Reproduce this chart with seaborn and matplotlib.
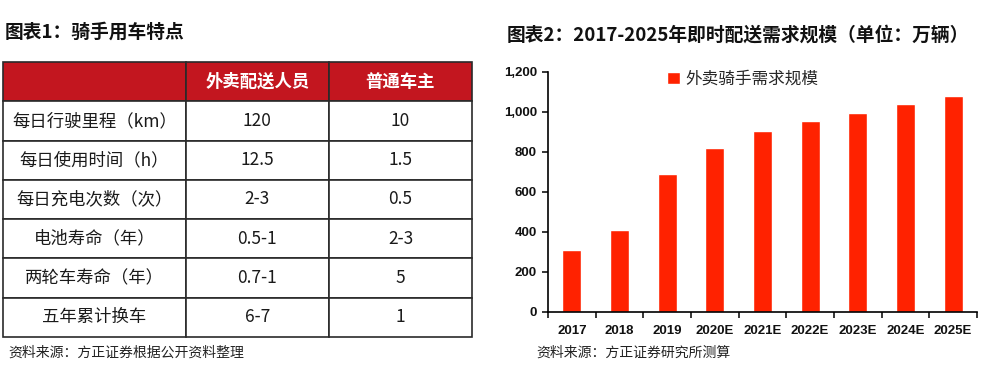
import matplotlib
matplotlib.use('Agg')
import matplotlib.pyplot as plt
import matplotlib.ticker as mticker
import seaborn as sns

# 图表1：骑手用车特点
row_labels = ['每日行驶里程（km）', '每日使用时间（h）', '每日充电次数（次）',
              '电池寿命（年）', '两轮车寿命（年）', '五年累计换车']
col_labels = ['', '外卖配送人员', '普通车主']
rider_vals = ['120', '12.5', '2-3', '0.5-1', '0.7-1', '6-7']
owner_vals = ['10', '1.5', '0.5', '2-3', '5', '1']

# 图表2：即时配送需求规模（万辆）
years = ['2017', '2018', '2019', '2020E', '2021E', '2022E', '2023E', '2024E', '2025E']
demand = [310, 410, 690, 820, 905, 955, 995, 1040, 1080]
series_name = '外卖骑手需求规模'

sns.set_theme(style='ticks')
plt.rcParams['font.family'] = ['Noto Sans CJK SC', 'DejaVu Sans']

fig = plt.figure(figsize=(10, 3.72), dpi=100)

# ---- left: table ----
ax_t = fig.add_axes([0.003, 1 - 337 / 372, 0.469, 275 / 372])
ax_t.axis('off')
cells = [[r, a, b] for r, a, b in zip(row_labels, rider_vals, owner_vals)]
tbl = ax_t.table(cellText=cells, colLabels=col_labels, colWidths=[0.39, 0.305, 0.305],
                 bbox=[0, 0, 1, 1], cellLoc='center')
tbl.auto_set_font_size(False)
for (r, c), cell in tbl.get_celld().items():
    cell.set_edgecolor('#2a2a2a')
    cell.set_linewidth(1.2)
    txt = cell.get_text()
    txt.set_fontsize(12.5)
    txt.set_color('#1a1a1a')
    if r == 0:
        cell.set_facecolor('#C3161F')
        txt.set_color('white')
        txt.set_fontweight('bold')

fig.text(0.005, 1 - 32 / 372, '图表1：骑手用车特点', fontsize=13.5, fontweight='bold',
         va='center', ha='left', color='#111111')
fig.text(0.008, 1 - 353 / 372, '资料来源：方正证券根据公开资料整理', fontsize=10,
         va='center', ha='left', color='#222222')

# ---- right: bar chart ----
ax = fig.add_axes([0.548, 1 - 312 / 372, 0.429, 240 / 372])
sns.barplot(x=years, y=demand, color='#FF2200', saturation=1, width=0.4,
            label=series_name, ax=ax)
ax.set_ylim(0, 1200)
ax.set_xlim(-0.5, len(years) - 0.5)
ax.set_yticks(range(0, 1201, 200))
ax.yaxis.set_major_formatter(mticker.FuncFormatter(lambda v, p: f'{int(v):,}'))
ax.set_xlabel('')
ax.set_ylabel('')
sns.despine(ax=ax)
for s in ['left', 'bottom']:
    ax.spines[s].set_color('black')
    ax.spines[s].set_linewidth(1.2)

ax.set_xticks([i + 0.5 for i in range(-1, len(years))], minor=True)
ax.tick_params(axis='x', which='major', length=0, pad=9)
ax.tick_params(axis='x', which='minor', length=4, width=1.1, color='black', direction='out')
ax.tick_params(axis='y', length=4, width=1.1, color='black', direction='out', pad=4)
for lab in ax.get_xticklabels() + ax.get_yticklabels():
    lab.set_family(['Liberation Sans', 'DejaVu Sans'])
    lab.set_fontsize(9.5)
    lab.set_fontweight('bold')
    lab.set_color('#111111')

ax.legend(loc='center left', bbox_to_anchor=(0.667, 1 - 79 / 372),
          bbox_transform=fig.transFigure, frameon=False, fontsize=12,
          handlelength=0.75, handleheight=0.75, handletextpad=0.35,
          borderpad=0, borderaxespad=0)

fig.text(0.507, 1 - 35 / 372, '图表2：2017-2025年即时配送需求规模（单位：万辆）',
         fontsize=13.5, fontweight='bold', va='center', ha='left', color='#111111')
fig.text(0.536, 1 - 353 / 372, '资料来源：方正证券研究所测算', fontsize=10,
         va='center', ha='left', color='#222222')

fig.savefig('out.png', dpi=100)
